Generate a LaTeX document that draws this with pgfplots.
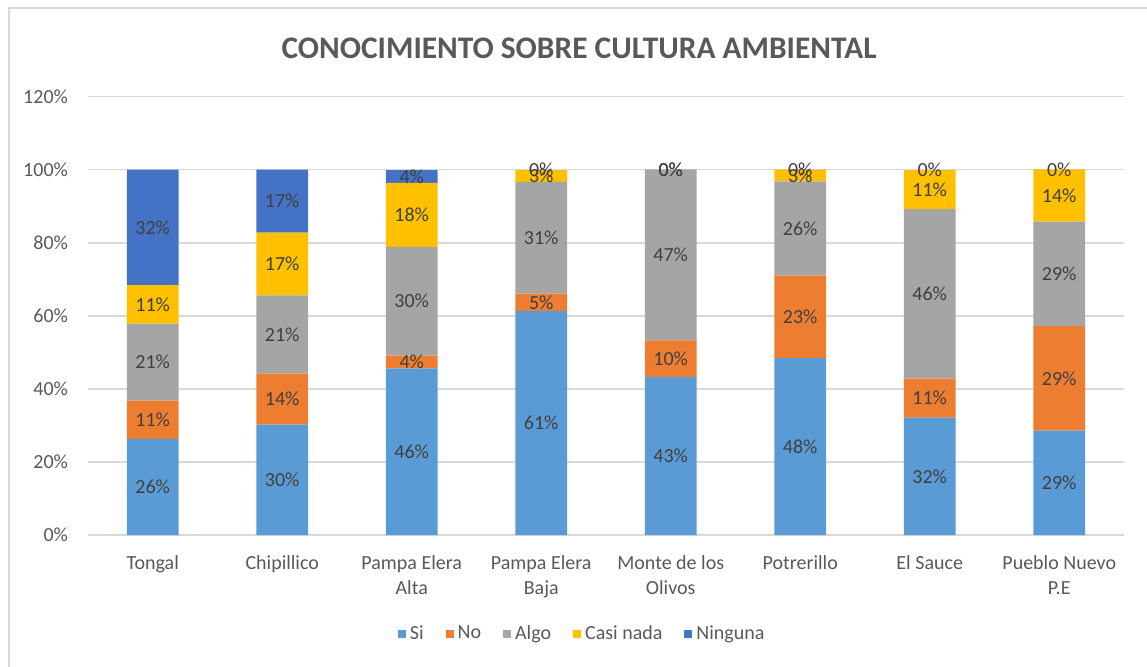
\documentclass[border=0pt]{standalone}
\usepackage{pgfplots}
\pgfplotsset{compat=1.18}
\usepackage{pgfplotstable}
\usepackage{fontspec}
\setmainfont{Carlito}
\definecolor{cSi}{HTML}{5B9BD5}
\definecolor{cNo}{HTML}{ED7D31}
\definecolor{cAlgo}{HTML}{A5A5A5}
\definecolor{cCasi}{HTML}{FFC000}
\definecolor{cNin}{HTML}{4472C4}
\definecolor{cGrid}{HTML}{D9D9D9}
\definecolor{cTxt}{HTML}{595959}
\definecolor{cLbl}{HTML}{404040}

\pgfplotstableread{
x Si No Algo Casi Ninguna
0 26.3 10.5 21.1 10.5 31.6
1 30.2 14.0 21.4 17.2 17.2
2 45.6 3.5 29.8 17.5 3.5
3 61.3 4.8 30.6 3.2 0.01
4 43.3 10.0 46.7 0.01 0.01
5 48.4 22.6 25.8 3.2 0.01
6 32.1 10.7 46.4 10.7 0.01
7 28.6 28.6 28.6 14.3 0.01
}\datatable

\begin{document}
\begin{tikzpicture}
\useasboundingbox (-44pt,-65.5pt) rectangle (529.5pt,267.5pt);
\draw[cGrid, line width=0.75pt] (-39.5pt,-70pt) -- (-39.5pt,263.5pt) -- (535pt,263.5pt);
\begin{axis}[
  at={(0pt,0pt)}, anchor=south west,
  scale only axis,
  width=518pt, height=219.17pt,
  ybar stacked,
  bar width=0.4,
  xmin=-0.5, xmax=7.5,
  ymin=0, ymax=120,
  ytick={0,20,...,120},
  yticklabel={\pgfmathprintnumber{\tick}\%},
  /pgf/number format/assume math mode=true,
  xtick={0,...,7},
  xticklabels={Tongal, Chipillico, {Pampa Elera\\Alta}, {Pampa Elera\\Baja}, {Monte de los\\Olivos}, Potrerillo, El Sauce, {Pueblo Nuevo\\P.E}},
  xticklabel style={align=center, font=\fontsize{10}{12.5}\selectfont, text=cTxt, yshift=-7pt},
  yticklabel style={font=\fontsize{10}{12}\selectfont, text=cTxt, xshift=-6.5pt},
  major tick length=0pt,
  axis line style={draw=none},
  ymajorgrids,
  grid style={cGrid, line width=0.75pt},
  point meta=explicit,
  nodes near coords={\pgfmathprintnumber[fixed,precision=0]{\pgfplotspointmeta}\%},
  every node near coord/.append style={anchor=center, font=\fontsize{10}{12}\selectfont, text=cLbl},
  legend columns=-1,
  legend style={at={(0.478,-0.2258)}, anchor=center, draw=none, fill=none,
    font=\fontsize{10}{12}\selectfont, text=cTxt,
    /tikz/every even column/.append style={column sep=9pt}},
  legend image code/.code={\draw[#1,draw=none] (0pt,-2pt) rectangle (4pt,2pt);},
]
\addplot[fill=cSi, draw=none] table[x=x, y=Si, meta=Si] {\datatable};
\addplot[fill=cNo, draw=none] table[x=x, y=No, meta=No] {\datatable};
\addplot[fill=cAlgo, draw=none] table[x=x, y=Algo, meta=Algo] {\datatable};
\addplot[fill=cCasi, draw=none] table[x=x, y=Casi, meta=Casi] {\datatable};
\addplot[fill=cNin, draw=none] table[x=x, y=Ninguna, meta=Ninguna] {\datatable};
\legend{Si, No, Algo, Casi nada, Ninguna}
\end{axis}
\node[font=\fontsize{15.7}{18}\selectfont\bfseries, text=cTxt] at (245.5pt,243.5pt) {CONOCIMIENTO SOBRE CULTURA AMBIENTAL};
\end{tikzpicture}
\end{document}
